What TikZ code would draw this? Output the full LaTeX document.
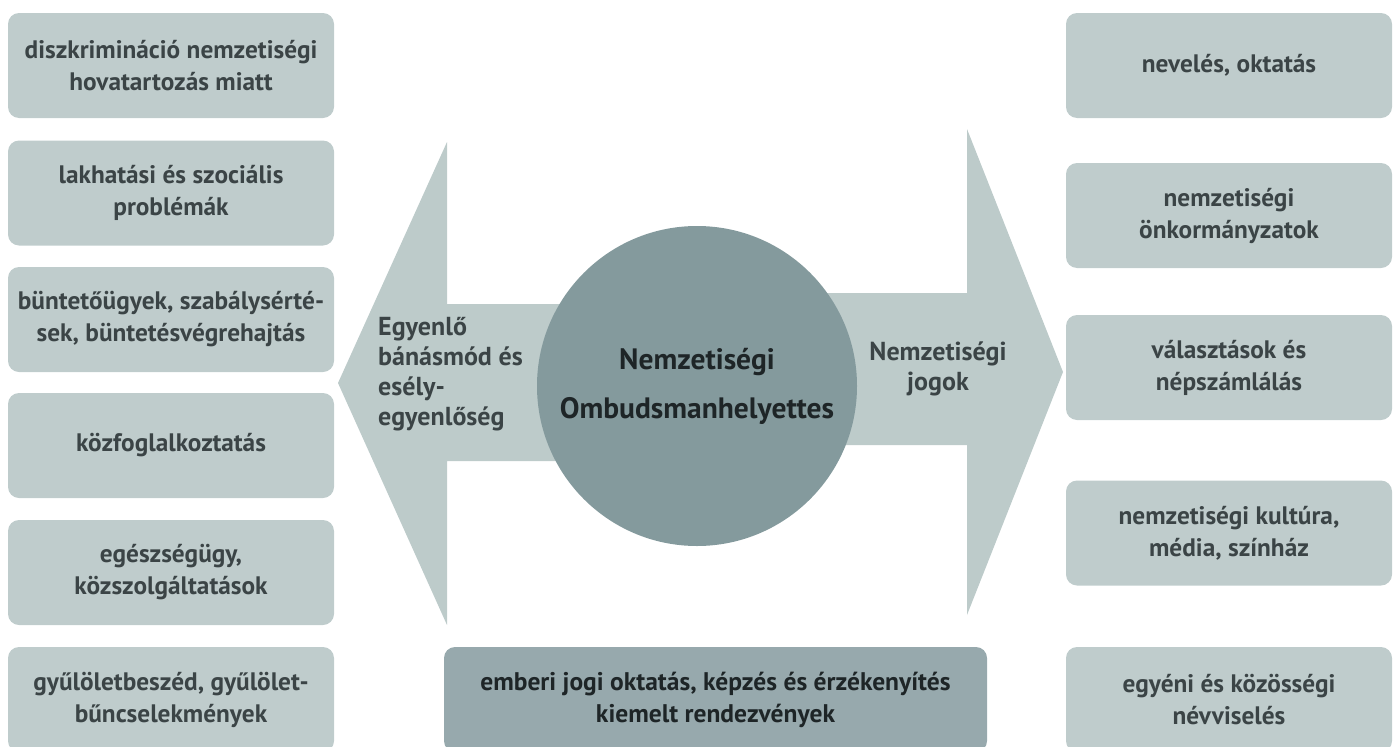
\documentclass[tikz,border=0pt]{standalone}
\usepackage{fontspec}
\setmainfont{PT Sans}
\definecolor{boxc}{HTML}{BFCCCC}
\definecolor{arrc}{HTML}{BDCBCA}
\definecolor{circc}{HTML}{849A9D}
\definecolor{botc}{HTML}{97A9AD}
\definecolor{txtc}{HTML}{3B4446}
\definecolor{ctxtc}{HTML}{1E2527}
\tikzset{
  topic/.style={fill=boxc, rounded corners=11pt, minimum width=326pt, minimum height=105pt,
    inner sep=0pt, align=center, text=txtc, font=\fontsize{25.3}{32}\selectfont\bfseries},
  bigbox/.style={fill=botc, rounded corners=11pt, minimum width=543pt, minimum height=105pt,
    inner sep=0pt, align=center, text=ctxtc, font=\fontsize{25.5}{32}\selectfont\bfseries},
  lbl/.style={inner sep=0pt, text=txtc, font=\fontsize{26}{30}\selectfont\bfseries},
}
\begin{document}
\begin{tikzpicture}[x=1pt,y=-1pt]
\useasboundingbox (0,0) rectangle (1398,747);
\clip (0,0) rectangle (1398,747);
% arrows
\fill[arrc] (338,383) -- (447,142) -- (447,304) -- (697,304) -- (697,461) -- (447,461) -- (447,625) -- cycle;
\fill[arrc] (697,293) -- (967,293) -- (967,129) -- (1063,372) -- (967,615) -- (967,445) -- (697,445) -- cycle;
% circle
\node[circle, fill=circc, minimum size=320pt, inner sep=0pt, align=center, text=ctxtc,
  font=\fontsize{29.5}{49}\selectfont\bfseries] (center) at (697,386)
  {Nemzetiségi\\Ombudsmanhelyettes};
% arrow labels
\node[lbl, anchor=west, align=left] (eqlbl) at (378,374) {Egyenlő\\bánásmód és\\esély-\\egyenlőség};
\node[lbl, align=center] (natlbl) at (938,369) {Nemzetiségi\\jogok};
% left boxes
\node[topic] (l1) at (171,65.5) {diszkrimináció nemzetiségi\\hovatartozás miatt};
\node[topic] (l2) at (171,193) {lakhatási és szociális\\problémák};
\node[topic] (l3) at (171,319.5) {büntetőügyek, szabálysérté-\\sek, büntetésvégrehajtás};
\node[topic] (l4) at (171,445.5) {közfoglalkoztatás};
\node[topic] (l5) at (171,572.5) {egészségügy,\\közszolgáltatások};
\node[topic] (l6) at (171,699.5) {gyűlöletbeszéd, gyűlölet-\\bűncselekmények};
% right boxes
\node[topic] (r1) at (1229,65.5) {nevelés, oktatás};
\node[topic] (r2) at (1229,215.5) {nemzetiségi\\önkormányzatok};
\node[topic] (r3) at (1229,367.5) {választások és\\népszámlálás};
\node[topic] (r4) at (1229,533) {nemzetiségi kultúra,\\média, színház};
\node[topic] (r5) at (1229,699.5) {egyéni és közösségi\\névviselés};
% bottom box
\node[bigbox] (bot) at (715.5,699.5) {emberi jogi oktatás, képzés és érzékenyítés\\kiemelt rendezvények};
\end{tikzpicture}
\end{document}
